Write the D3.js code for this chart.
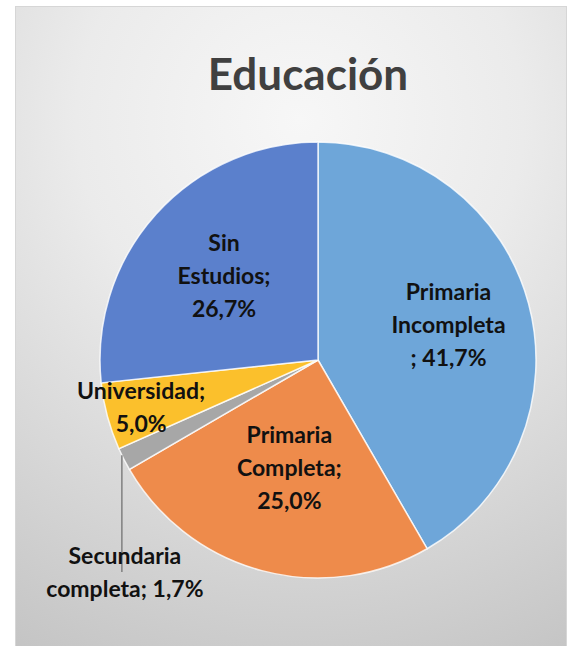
<!DOCTYPE html>
<html>
<head>
<meta charset="utf-8">
<script src="https://cdn.jsdelivr.net/npm/d3@7"></script>
<style>
  html, body { margin: 0; padding: 0; background: #ffffff; }
  svg { display: block; font-family: Lato, "Open Sans", sans-serif; }
</style>
</head>
<body>
<div id="chart"></div>
<script>
// data (share in %, clockwise from 12 o'clock)
const categories = ["Primaria Incompleta", "Primaria Completa", "Secundaria completa", "Universidad", "Sin Estudios"];
const values     = [41.7, 25.0, 1.7, 5.0, 26.7];
// how Excel wrapped each data label
const labelLines = [
  ["Primaria", "Incompleta", "; 41,7%"],
  ["Primaria", "Completa;", "25,0%"],
  ["Secundaria", "completa; 1,7%"],
  ["Universidad;", "5,0%"],
  ["Sin", "Estudios;", "26,7%"]
];
const colors = ["#6ea6d9", "#ee8b4b", "#a7a7a7", "#fbc02c", "#5b80cc"];

const W = 571, H = 646;
const cx = 318, cy = 360, R = 218;
// label distance from the centre as a share of the radius (null = outside with leader)
const labelRadius = [0.62, 0.51, null, 0.84, 0.58];
const lineH = 33;

const svg = d3.select("#chart").append("svg")
    .attr("width", W).attr("height", H);

// chart area background: soft radial grey
const defs = svg.append("defs");
const grad = defs.append("radialGradient").attr("id", "bg")
    .attr("gradientUnits", "userSpaceOnUse")
    .attr("cx", 300).attr("cy", 120).attr("r", 640);
grad.append("stop").attr("offset", 0).attr("stop-color", "#f7f7f7");
grad.append("stop").attr("offset", 0.35).attr("stop-color", "#ebebeb");
grad.append("stop").attr("offset", 1).attr("stop-color", "#c0c0c0");

svg.append("rect")
    .attr("x", 15.5).attr("y", 6.5).attr("width", 551).attr("height", H)
    .attr("fill", "url(#bg)").attr("stroke", "#d6d6d6");

svg.append("text")
    .attr("x", 308).attr("y", 90)
    .attr("text-anchor", "middle")
    .attr("font-size", 44).attr("font-weight", 700)
    .attr("fill", "#404040")
    .text("Educación");

const pie = d3.pie().sort(null).value(d => d);
const arcs = pie(values);
const arc = d3.arc().innerRadius(0).outerRadius(R);

const g = svg.append("g").attr("transform", `translate(${cx},${cy})`);

g.selectAll("path").data(arcs).join("path")
    .attr("d", arc)
    .attr("fill", (d, i) => colors[i])
    .attr("stroke", "#ffffff").attr("stroke-width", 1.5).attr("stroke-opacity", 0.8);

// labels
arcs.forEach((d, i) => {
  const mid = (d.startAngle + d.endAngle) / 2;
  let x, y;
  if (labelRadius[i] != null) {
    const r = R * labelRadius[i];
    x = Math.sin(mid) * r;
    y = -Math.cos(mid) * r;
  } else {
    // outside label hanging below the slice, joined by a vertical leader
    const ex = Math.sin(mid) * R, ey = -Math.cos(mid) * R;
    x = ex + 1;
    y = 212;
    g.append("line")
        .attr("x1", ex - 2).attr("y1", ey - 4)
        .attr("x2", ex - 2).attr("y2", y)
        .attr("stroke", "#7f7f7f").attr("stroke-width", 1.5);
  }
  const lines = labelLines[i];
  const t = g.append("text")
      .attr("text-anchor", "middle")
      .attr("font-size", 23).attr("font-weight", 700)
      .attr("fill", "#111111");
  lines.forEach((s, k) => {
    t.append("tspan")
        .attr("x", x)
        .attr("y", y + (k - (lines.length - 1) / 2) * lineH)
        .attr("dy", "0.36em")
        .text(s);
  });
});
</script>
</body>
</html>
